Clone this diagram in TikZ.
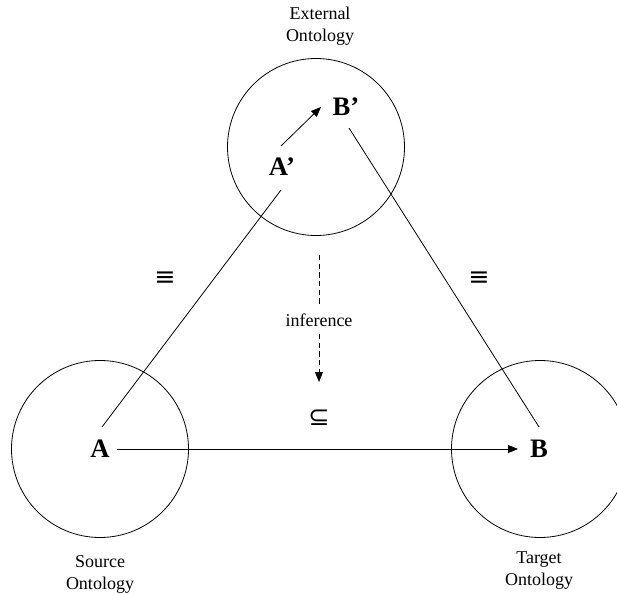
\documentclass[tikz,border=0pt]{standalone}
\usepackage{fontspec}
\setmainfont{Liberation Serif}
\newfontfamily\symfnt{DejaVu Sans}
\usetikzlibrary{arrows.meta}
\begin{document}
\begin{tikzpicture}[x=0.75pt,y=-0.75pt,
  onto/.style={circle,draw,line width=0.6pt,minimum size=132.75pt,inner sep=0pt},
  concept/.style={font=\fontsize{20}{24}\selectfont\bfseries,inner sep=0pt},
  lbl/.style={align=center,font=\fontsize{13.5}{16.5}\selectfont,inner sep=0pt},
  rel/.style={font=\fontsize{19}{22}\selectfont\symfnt,inner sep=0pt},
  conn/.style={line width=0.6pt,black},
  tip/.style={-{Triangle[length=7.5pt,width=6pt]}},
  dsh/.style={dash pattern=on 4pt off 2.5pt}]
\useasboundingbox (0,0) rectangle (617,595);
\clip (0,0) rectangle (617,595);
% ontology circles
\node[onto] (ext) at (316,147) {};
\node[onto] (src) at (100,449) {};
\node[onto] (tgt) at (540,449) {};
% concepts
\node[concept] (A) at (100,449) {A};
\node[concept] (B) at (539,449) {B};
\node[concept] (Ap) at (282,167) {A’};
\node[concept] (Bp) at (346,107) {B’};
% labels
\node[lbl] (extl) at (320,26) {External\\Ontology};
\node[lbl] (srcl) at (100,574) {Source\\Ontology};
\node[lbl] (tgtl) at (539,571) {Target\\Ontology};
\node[rel] (eq1) at (165,279) {≡};
\node[rel] (eq2) at (479,279) {≡};
\node[rel] (sub) at (319,418) {⊆};
\node[lbl,inner ysep=5.5pt] (inf) at (319,320) {inference};
\coordinate (inftop) at (319,255);
\coordinate (infend) at (319,382);
% connectors
\draw[conn] ([shift={(2,-22)}]A.center) -- ([shift={(-1,23)}]Ap.center);
\draw[conn,tip] ([shift={(-1,-21)}]Ap.center) -- ([shift={(-25,0)}]Bp.center);
\draw[conn] ([shift={(3,21)}]Bp.center) -- ([shift={(0,-22)}]B.center);
\draw[conn,tip] ([shift={(17,0)}]A.center) -- ([shift={(-21,0)}]B.center);
\draw[conn,dsh] (inftop) -- (inf.north);
\draw[conn,dsh,tip] (inf.south) -- (infend);
\end{tikzpicture}
\end{document}
